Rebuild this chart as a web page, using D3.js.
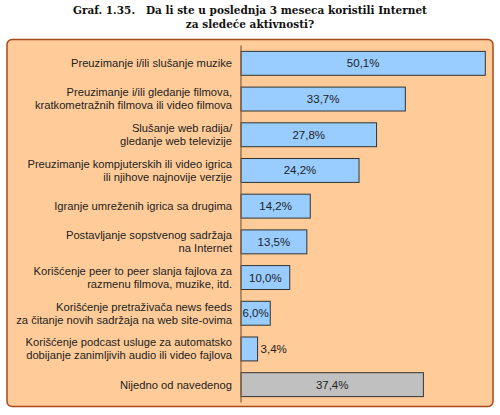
<!DOCTYPE html>
<html>
<head>
<meta charset="utf-8">
<script src="https://cdn.jsdelivr.net/npm/d3@7"></script>
<style>
  body { margin: 0; background: #fff; }
  svg { display: block; }
</style>
</head>
<body>
<svg id="chart"></svg>
<script>
// chart data
const categories = [
  ['Preuzimanje i/ili slušanje muzike'],
  ['Preuzimanje i/ili gledanje filmova,', 'kratkometražnih filmova ili video filmova'],
  ['Slušanje web radija/', 'gledanje web televizije'],
  ['Preuzimanje kompjuterskih ili video igrica', 'ili njihove najnovije verzije'],
  ['Igranje umreženih igrica sa drugima'],
  ['Postavljanje sopstvenog sadržaja', 'na Internet'],
  ['Korišćenje peer to peer slanja fajlova za', 'razmenu filmova, muzike, itd.'],
  ['Korišćenje pretraživača news feeds', 'za čitanje novih sadržaja na web site-ovima'],
  ['Korišćenje podcast usluge za automatsko', 'dobijanje zanimljivih audio ili video fajlova'],
  ['Nijedno od navedenog'],
];
const values = [50.1, 33.7, 27.8, 24.2, 14.2, 13.5, 10.0, 6.0, 3.4, 37.4];
const titleLines = [
  'Graf. 1.35.   Da li ste u poslednja 3 meseca koristili Internet',
  'za sledeće aktivnosti?',
];

const config = {
  width: 500,
  height: 415,
  panel: { x: 7, y: 39.5, w: 486, h: 367 },
  axisX: 241,
  plotTop: 45.5,
  plotBottom: 402.5,
};

const svg = d3.select('#chart')
  .attr('width', config.width)
  .attr('height', config.height);

// title
svg.append('g')
  .selectAll('text')
  .data(titleLines)
  .join('text')
  .attr('x', 250)
  .attr('y', (d, i) => 14 + i * 14)
  .attr('text-anchor', 'middle')
  .attr('font-family', '"DejaVu Serif", serif')
  .attr('font-weight', 'bold')
  .attr('font-size', 10.5)
  .attr('fill', '#111')
  .attr('xml:space', 'preserve')
  .style('white-space', 'pre')
  .text((d) => d);

// panel background
svg.append('rect')
  .attr('x', config.panel.x)
  .attr('y', config.panel.y)
  .attr('width', config.panel.w)
  .attr('height', config.panel.h)
  .attr('rx', 5)
  .attr('fill', '#ffcc99')
  .attr('stroke', '#a8481a')
  .attr('stroke-width', 1.5);

// scales
const xScale = d3.scaleLinear()
  .domain([0, 50.1])
  .range([0, 244.3]);

const yScale = d3.scaleBand()
  .domain(d3.range(values.length))
  .range([config.plotTop, config.plotBottom])
  .paddingInner(0.33)
  .paddingOuter(0.165);

const chart = svg.append('g')
  .attr('transform', `translate(${config.axisX},0)`);

// bars
chart.selectAll('.bar')
  .data(values)
  .join('rect')
  .attr('class', 'bar')
  .attr('x', 0)
  .attr('y', (d, i) => yScale(i))
  .attr('width', (d) => xScale(d))
  .attr('height', yScale.bandwidth())
  .attr('fill', (d, i) => (i === values.length - 1 ? '#c0c0c0' : '#99ccff'))
  .attr('stroke', '#333')
  .attr('stroke-width', 1);

// value labels
chart.selectAll('.val')
  .data(values)
  .join('text')
  .attr('class', 'val')
  .attr('x', (d) => (xScale(d) < 25 ? xScale(d) + 3 : xScale(d) / 2))
  .attr('y', (d, i) => yScale(i) + yScale.bandwidth() / 2)
  .attr('dy', '0.35em')
  .attr('text-anchor', (d) => (xScale(d) < 25 ? 'start' : 'middle'))
  .attr('font-family', '"Liberation Sans", Arial, sans-serif')
  .attr('font-size', 11.5)
  .attr('fill', '#222')
  .text((d) => `${d.toFixed(1).replace('.', ',')}%`);

// axis line
svg.append('line')
  .attr('x1', config.axisX)
  .attr('x2', config.axisX)
  .attr('y1', config.plotTop)
  .attr('y2', config.plotBottom)
  .attr('stroke', '#806040')
  .attr('stroke-width', 1.2);

// category labels
const labels = svg.append('g')
  .selectAll('text')
  .data(categories)
  .join('text')
  .attr('x', 232)
  .attr('y', (d, i) => yScale(i) + yScale.bandwidth() / 2)
  .attr('text-anchor', 'end')
  .attr('font-family', '"Liberation Sans", Arial, sans-serif')
  .attr('font-size', 11.2)
  .attr('fill', '#222');

labels.selectAll('tspan')
  .data((d) => d.map((line, j) => ({ line, j, n: d.length })))
  .join('tspan')
  .attr('x', 232)
  .attr('dy', (t) => (t.j === 0 ? `${0.35 - (t.n - 1) * 0.58}em` : '1.16em'))
  .text((t) => t.line);
</script>
</body>
</html>
